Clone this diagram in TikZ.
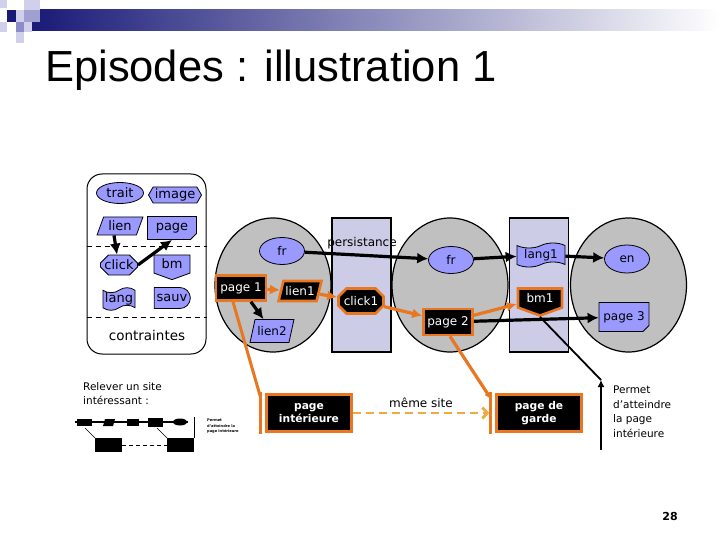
\documentclass[tikz,border=0pt]{standalone}
\usepackage{fontspec}
\setmainfont{DejaVu Sans}
\newfontfamily\titlefont{Liberation Sans}
\usetikzlibrary{shapes.geometric,shapes.misc,shapes.symbols,arrows.meta,calc}
\definecolor{blueN}{RGB}{153,153,255}
\definecolor{grayC}{RGB}{192,192,192}
\definecolor{colL}{RGB}{204,204,230}
\definecolor{orangeB}{RGB}{232,119,34}
\definecolor{orangeD}{RGB}{240,168,64}
\definecolor{navyH}{RGB}{26,26,120}
\definecolor{lavA}{RGB}{208,208,236}
\definecolor{lavB}{RGB}{160,160,208}
\definecolor{lavC}{RGB}{140,140,200}
\begin{document}
\begin{tikzpicture}[x=1pt,y=-1pt,
  base/.style={inner sep=0pt, draw=black, line width=0.8pt, font=\fontsize{12}{14}\selectfont},
  bnode/.style={base, fill=blueN},
  pnode/.style={base, fill=blueN, font=\fontsize{13}{15}\selectfont},
  knode/.style={base, fill=black, text=white, draw=orangeB, line width=2.6pt},
  bignode/.style={knode, align=center, font=\bfseries\fontsize{10.7}{13}\selectfont},
  zone/.style={ellipse, draw=black, fill=grayC, line width=1.2pt, minimum width=116, minimum height=134, inner sep=0pt},
  column/.style={rectangle, draw=black, fill=colL, line width=1.2pt, minimum width=59, minimum height=134, inner sep=0pt},
  para/.style={trapezium, trapezium left angle=65, trapezium right angle=115, trapezium stretches=true},
  docshape/.style={chamfered rectangle, chamfered rectangle corners=south east, chamfered rectangle xsep=3pt, chamfered rectangle ysep=3pt},
  octo/.style={chamfered rectangle, chamfered rectangle xsep=4pt, chamfered rectangle ysep=4pt},
  karrow/.style={line width=3.2pt, -{Latex[length=11pt,width=11pt]}},
  oarrow/.style={draw=orangeB, line width=3.2pt, -{Latex[length=10pt,width=10pt]}},
  oline/.style={draw=orangeB, line width=3pt},
  dline/.style={draw=orangeD, line width=2.8pt, dash pattern=on 8pt off 5pt, -{Straight Barb[length=5pt,width=11pt]}},
  txt/.style={inner sep=0pt, font=\fontsize{12}{14}\selectfont}
]
\useasboundingbox (0,0) rectangle (720,540);
\fill[white] (0,0) rectangle (720,540);
% header
\shade[left color=navyH, right color=white] (32,10) rectangle (720,31);
\fill[lavA] (0,0) rectangle (7,8);
\fill[lavA] (24,0) rectangle (40,10);
\fill[navyH] (7,10) rectangle (16,22);
\fill[lavA] (16,10) rectangle (24,22);
\fill[lavB] (24,10) rectangle (40,22);
\fill[lavA] (0,22) rectangle (7,32);
\fill[lavC] (16,22) rectangle (24,32);
\fill[lavA] (24,22) rectangle (32,32);
\fill[lavA] (16,32) rectangle (24,43);
\node[anchor=base west, inner sep=0pt, font=\titlefont\fontsize{43.5}{50}\selectfont] (title) at (45,82) {Episodes : illustration 1};

% left panel
\node[draw=black, line width=1pt, rounded corners=15pt, minimum width=119, minimum height=180, inner sep=0pt] (panel) at (146.5,264) {};
\draw[dash pattern=on 5pt off 4pt, line width=0.8pt] (panel.west |- 0,246) -- (panel.east |- 0,246);
\draw[dash pattern=on 5pt off 4pt, line width=0.8pt] (panel.west |- 0,317) -- (panel.east |- 0,317);
\node[pnode, ellipse, minimum width=47, minimum height=21] (trait) at (120,193) {trait};
\node[pnode, signal, signal to=east and west, signal pointer angle=120, minimum width=53, minimum height=16] (image) at (175,195) {image};
\node[pnode, para, minimum width=46, minimum height=18] (lien) at (120,226) {lien};
\node[pnode, docshape, minimum width=49, minimum height=23] (page) at (172,228) {page};
\node[pnode, octo, minimum width=32, minimum height=20] (click) at (119,265) {click};
\node[pnode, signal, signal to=south, signal pointer angle=140, minimum width=36, minimum height=22] (bm) at (172,264) {bm};
\node[pnode, tape, minimum width=32, minimum height=18] (lang) at (119,299) {lang};
\node[pnode, rounded rectangle, rounded rectangle left arc=none, minimum width=36, minimum height=21] (sauv) at (172,298) {sauv};
\node[inner sep=0pt, font=\fontsize{13.5}{16}\selectfont] (contr) at (147,335) {contraintes};
\draw[karrow] ([xshift=-6pt]lien.south) -- ([xshift=-2pt]click.north);
\draw[karrow] (click.east) -- (page.south);

% zones and columns
\node[zone] (c1) at (273,285) {};
\node[column] (col1) at (361.5,285) {};
\node[zone] (c2) at (450,285) {};
\node[column] (col2) at (539,285) {};
\node[zone] (c3) at (628.5,285) {};
\node[txt] (pers) at (362,243) {persistance};

% inner nodes
\node[bnode, ellipse, minimum width=45, minimum height=27] (fr1) at (282,251) {fr};
\node[bnode, ellipse, minimum width=45, minimum height=27] (fr2) at (451,260) {fr};
\node[bnode, tape, minimum width=48, minimum height=24] (lang1) at (541,255) {lang1};
\node[bnode, ellipse, minimum width=45, minimum height=28] (en) at (627,259) {en};
\node[knode, minimum width=50, minimum height=25] (page1) at (241,288) {page 1};
\node[knode, para, minimum width=43, minimum height=20] (lien1) at (300,291) {lien1};
\node[bnode, para, minimum width=44, minimum height=23] (lien2) at (272,331) {lien2};
\node[knode, octo, minimum width=45, minimum height=25] (click1) at (361,301) {click1};
\node[knode, minimum width=49, minimum height=26] (page2) at (448,322) {page 2};
\node[knode, signal, signal to=south, signal pointer angle=140, minimum width=44, minimum height=24] (bm1) at (540,298) {bm1};
\node[bnode, docshape, minimum width=50, minimum height=29] (page3) at (624,317) {page 3};

\draw[karrow] (fr1) -- (fr2);
\draw[karrow] (fr2) -- (lang1);
\draw[karrow] (lang1) -- (en);
\draw[karrow] (page2) -- (page3);
\draw[karrow] (page1) -- (lien2);
\draw[oarrow] (page1) -- (lien1);
\draw[oarrow] (lien1) -- (click1);
\draw[oarrow] (click1) -- (page2);
\draw[oarrow] (page2) -- (bm1);

% bottom boxes
\node[bignode, minimum width=85, minimum height=37] (pi) at (309,413) {page\\intérieure};
\node[bignode, minimum width=85, minimum height=37] (pg) at (539,413) {page de\\garde};
\draw[oline] ($(page1.south)+(-8,0)$) -- ($(pi.north west)+(-5,3)$);
\draw[oline] ($(pi.north west)+(-5,-1.5)$) -- ($(pi.south west)+(-5,1.5)$);
\draw[oarrow, -{Latex[length=7pt,width=7pt]}] ($(page2.south)+(2,0)$) -- ($(pg.north west)+(-4,6)$);
\draw[oline] ($(pg.north west)+(-5,-1.5)$) -- ($(pg.south west)+(-5,1.5)$);
\draw[dline] (pi.east) -- ($(pg.west)+(-6,0)$) node[midway, above=1pt, text=black, font=\fontsize{12}{14}\selectfont] (meme) {même site};

% bm1 pointer
\coordinate (tip) at (601,380);
\coordinate (vb) at (601,450);
\draw[line width=1.8pt] (bm1.south) -- (tip);
\draw[line width=2.2pt, -{Latex[length=7pt,width=7pt]}] (vb) -- (tip);
\node[anchor=north west, align=left, inner sep=0pt, font=\fontsize{10.5}{14.5}\selectfont] (permet) at (613,386) {Permet\\d’atteindre\\la page\\intérieure};

% bottom left
\node[anchor=north west, align=left, inner sep=0pt, font=\fontsize{10.5}{14.5}\selectfont] (relever) at (83,382) {Relever un site\\intéressant :};
\draw[line width=1.5pt] (75,422) -- (188,422);
\fill (77,419) rectangle (92,426);
\fill (105,419) -- (115,419) -- (113,426) -- (103,426) -- cycle;
\fill (127,419) rectangle (139,426);
\fill (148,418) rectangle (163,427);
\fill (180,422) ellipse (7 and 3.5);
\fill (95,438) rectangle (122,452);
\fill (167,438) rectangle (194,452);
\draw[line width=0.5pt] (85,428) -- (95,438);
\draw[line width=0.5pt] (157,428) -- (167,438);
\draw[line width=0.8pt] (194,417) -- (194,438);
\draw[line width=1pt, dash pattern=on 4pt off 3pt] (122,445) -- (167,445);
\node[anchor=north west, align=left, inner sep=0pt, font=\bfseries\fontsize{3.6}{5.5}\selectfont] (tiny) at (207,419) {Permet\\d’atteindre la\\page intérieure};

\node[inner sep=0pt, font=\bfseries\fontsize{11}{13}\selectfont] (num) at (670,516) {28};
\end{tikzpicture}
\end{document}
